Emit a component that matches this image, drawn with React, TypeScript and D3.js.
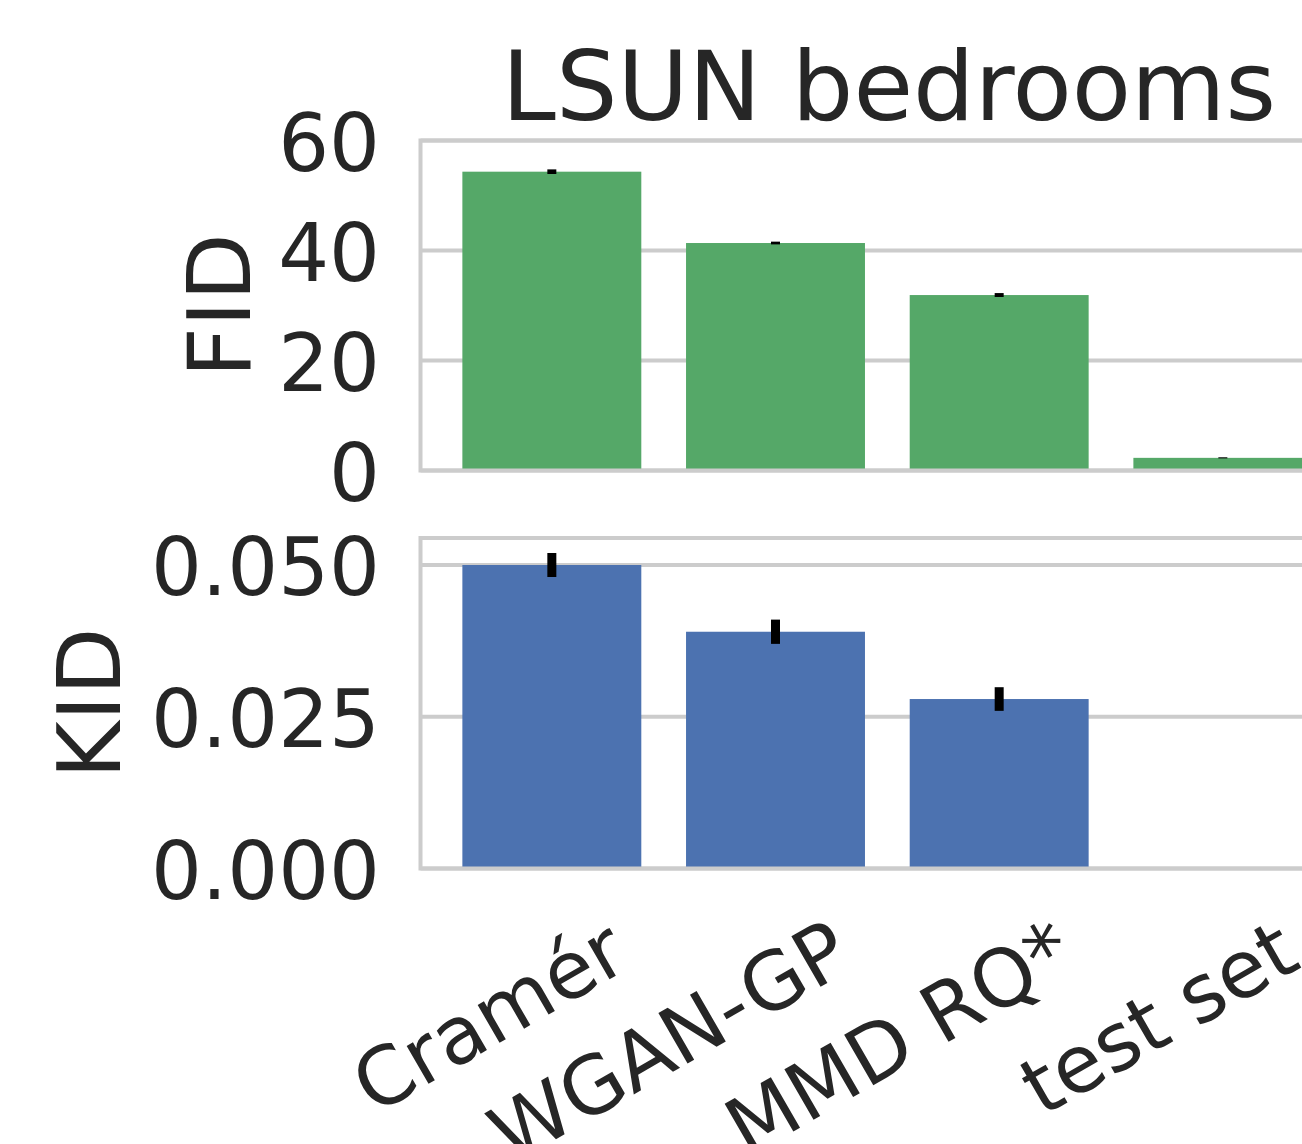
import React, { useEffect, useRef } from 'react';
import * as d3 from 'd3';

// data
const methods = ['Cramér', 'WGAN-GP', 'MMD RQ*', 'test set'];
const fidValues = [54.33, 41.36, 31.9, 2.3];
const fidErrors = [0.42, 0.25, 0.36, 0.1];
const kidValues = [0.05002, 0.03902, 0.02793, 0.00002];
const kidErrors = [0.00198, 0.002, 0.00195, 0.00003];
const fidTicks = [0, 20, 40, 60];
const kidTicks = [0, 0.025, 0.05];

const GREEN = '#55a868';
const BLUE = '#4c72b0';
const GRID = '#cccccc';
const TEXT = '#262626';
const FONT = 'DejaVu Sans, sans-serif';

const App = () => {
  const svgRef = useRef<SVGSVGElement>(null);

  useEffect(() => {
    const width = 1302;
    const height = 1144;
    const left = 420.5;
    const right = 1356;

    const svg = d3.select(svgRef.current)
      .attr('width', width)
      .attr('height', height);
    svg.selectAll('*').remove();

    const x = d3.scaleBand<string>()
      .domain(methods)
      .range([440, 440 + 4 * 223.67])
      .paddingInner(0.2)
      .paddingOuter(0.1);

    const panels = [
      {
        values: fidValues, errors: fidErrors, ticks: fidTicks, color: GREEN,
        y: d3.scaleLinear().domain([0, 60]).range([470.5, 140.5]),
        fmt: d3.format('d'), label: 'FID', labelX: 250,
      },
      {
        values: kidValues, errors: kidErrors, ticks: kidTicks, color: BLUE,
        y: d3.scaleLinear().domain([0, 0.05447]).range([868.5, 538]),
        fmt: d3.format('.3f'), label: 'KID', labelX: 120,
      },
    ];

    panels.forEach(p => {
      const [y0, y1] = p.y.range();
      const g = svg.append('g');

      // gridlines
      g.selectAll('line.grid')
        .data(p.ticks)
        .enter()
        .append('line')
        .attr('x1', left)
        .attr('x2', right)
        .attr('y1', d => p.y(d))
        .attr('y2', d => p.y(d))
        .attr('stroke', GRID)
        .attr('stroke-width', 4);

      // bars
      g.selectAll('rect.bar')
        .data(methods)
        .enter()
        .append('rect')
        .attr('x', d => x(d)!)
        .attr('width', x.bandwidth())
        .attr('y', (d, i) => p.y(p.values[i]))
        .attr('height', (d, i) => y0 - p.y(p.values[i]))
        .attr('fill', p.color);

      // error bars
      g.selectAll('line.err')
        .data(methods)
        .enter()
        .append('line')
        .attr('x1', d => x(d)! + x.bandwidth() / 2)
        .attr('x2', d => x(d)! + x.bandwidth() / 2)
        .attr('y1', (d, i) => p.y(p.values[i] - p.errors[i]))
        .attr('y2', (d, i) => p.y(p.values[i] + p.errors[i]))
        .attr('stroke', '#000')
        .attr('stroke-width', 9);

      // frame
      g.append('rect')
        .attr('x', left)
        .attr('y', y1)
        .attr('width', right - left)
        .attr('height', y0 - y1)
        .attr('fill', 'none')
        .attr('stroke', GRID)
        .attr('stroke-width', 4);

      // tick labels
      g.selectAll('text.tick')
        .data(p.ticks)
        .enter()
        .append('text')
        .attr('x', 380)
        .attr('y', d => p.y(d) + 30)
        .attr('text-anchor', 'end')
        .attr('font-family', FONT)
        .attr('font-size', 80)
        .attr('fill', TEXT)
        .text(d => p.fmt(d));

      // axis label
      g.append('text')
        .attr('transform', `translate(${p.labelX}, ${(y0 + y1) / 2}) rotate(-90)`)
        .attr('text-anchor', 'middle')
        .attr('font-family', FONT)
        .attr('font-size', 88)
        .attr('fill', TEXT)
        .text(p.label);
    });

    // rotated category labels under the lower panel
    svg.selectAll('text.cat')
      .data(methods)
      .enter()
      .append('text')
      .attr('transform', d => `translate(${x(d)! + x.bandwidth() / 2 + 80}, ${868.5 + 98}) rotate(-30)`)
      .attr('text-anchor', 'end')
      .attr('font-family', FONT)
      .attr('font-size', 80)
      .attr('fill', TEXT)
      .text(d => d);

    // title
    svg.append('text')
      .attr('x', 889)
      .attr('y', 120)
      .attr('text-anchor', 'middle')
      .attr('font-family', FONT)
      .attr('font-size', 97)
      .attr('fill', TEXT)
      .text('LSUN bedrooms');
  }, []);

  return (
    <svg ref={svgRef} style={{ position: 'absolute', left: 0, top: 0, display: 'block' }}></svg>
  );
};

export default App;
